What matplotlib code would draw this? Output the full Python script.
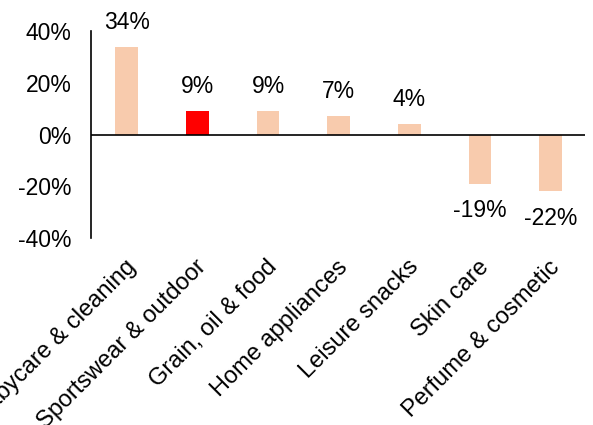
import numpy as np
import matplotlib
matplotlib.use('Agg')
import matplotlib.pyplot as plt
from matplotlib.transforms import ScaledTranslation

# categories and growth values (%)
categories = ['Babycare & cleaning', 'Sportswear & outdoor', 'Grain, oil & food',
              'Home appliances', 'Leisure snacks', 'Skin care', 'Perfume & cosmetic']
values = [34, 9, 9, 7, 4, -19, -22]
highlight = 'Sportswear & outdoor'
yticks = [-40, -20, 0, 20, 40]

plt.rcParams['font.family'] = ['Liberation Sans', 'DejaVu Sans']
fs = 16.5

fig = plt.figure(figsize=(5.93, 4.25), dpi=100)
ax = fig.add_axes([0.153, 0.44, 0.833, 0.487])

x = np.arange(len(categories))
colors = ['#FF0000' if c == highlight else '#F8CBAD' for c in categories]
ax.bar(x, values, width=0.32, color=colors, zorder=2)

for xi, v in zip(x, values):
    if v >= 0:
        ax.text(xi, v + 5, f'{v}%', ha='center', va='bottom', fontsize=fs)
    else:
        ax.text(xi, v - 6, f'{v}%', ha='center', va='top', fontsize=fs)

ax.axhline(0, color='black', linewidth=1.2, zorder=3)
ax.set_ylim(-40, 40)
ax.set_xlim(-0.51, 6.48)
ax.set_yticks(yticks)
ax.set_yticklabels([f'{t}%' for t in yticks], fontsize=fs)
ax.tick_params(axis='y', length=0, pad=14)
ax.tick_params(axis='x', length=0, pad=0)
ax.set_xticks(x)
ax.set_xticklabels(categories, rotation=45, ha='right', rotation_mode='anchor', fontsize=17)
for lbl in ax.get_xticklabels():
    lbl.set_transform(lbl.get_transform() + ScaledTranslation(-0.02, -0.18, fig.dpi_scale_trans))

for s in ['top', 'right', 'bottom']:
    ax.spines[s].set_visible(False)
ax.spines['left'].set_linewidth(1.2)

fig.savefig('out.png', dpi=100)
